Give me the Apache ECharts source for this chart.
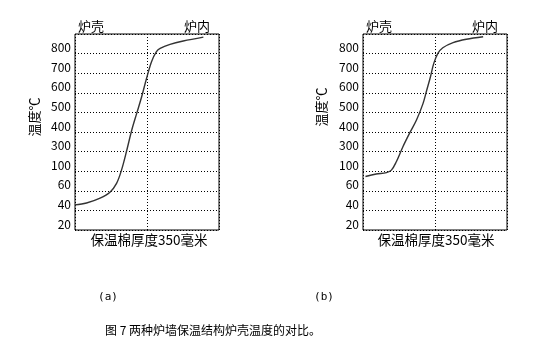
<!DOCTYPE html>
<html><head><meta charset="utf-8">
<script src="https://cdn.jsdelivr.net/npm/echarts@6/dist/echarts.min.js"></script>
<style>html,body{margin:0;padding:0;background:#fff}#c{width:538px;height:347px}</style>
</head><body><div id="c"></div>
<script>
// tick labels on the temperature axis (non-uniform scale)
var tickLabels = [20, 40, 60, 100, 300, 400, 500, 600, 700, 800];
// thickness of insulation, mm (0 = shell, 350 = furnace inside)
var xA = [0, 28, 61, 85, 101, 113, 126, 138, 150, 162, 174, 186, 198, 207, 231, 263, 312];
var tempA = [39, 41, 46, 52, 62, 89, 250, 377, 462, 547, 641, 726, 777, 794, 814, 831, 851];
var xB = [6, 32, 57, 69, 81, 97, 113, 130, 146, 155, 164, 172, 182, 194, 219, 251, 292];
var tempB = [76, 81, 84, 89, 131, 284, 360, 428, 513, 581, 649, 717, 768, 797, 823, 840, 853];

var LABEL_OFF = 0.33;
// map a temperature to the axis position used by the non-uniform scale
function pos(t) {
  var n = tickLabels.length;
  if (t <= tickLabels[0]) return LABEL_OFF + (t - tickLabels[0]) / 20;
  for (var i = 0; i < n - 1; i++) {
    if (t <= tickLabels[i + 1]) return i + LABEL_OFF + (t - tickLabels[i]) / (tickLabels[i + 1] - tickLabels[i]);
  }
  return n - 1 + LABEL_OFF + (t - tickLabels[n - 1]) / 100;
}
function build(xs, ts) { return xs.map(function (x, i) { return [x, pos(ts[i])]; }); }

var FONT = 'SimSun, "Noto Sans CJK SC", sans-serif';
function xAx(idx) {
  return { type: 'value', gridIndex: idx, min: 0, max: 350, interval: 175,
    axisLine: { show: false }, axisTick: { show: false }, axisLabel: { show: false },
    splitLine: { show: true, lineStyle: { color: '#000', type: [1, 2], width: 1 } } };
}
function yAx(idx) {
  return { type: 'value', gridIndex: idx, min: 0, max: 10, interval: 1,
    axisLine: { show: false }, axisTick: { show: false },
    axisLabel: { show: true, margin: 4, color: '#000', fontSize: 12, fontFamily: FONT,
      verticalAlign: 'bottom',
      formatter: function (v) { var i = Math.round(v); return i < tickLabels.length ? String(tickLabels[i]) : ''; } },
    splitLine: { show: true, lineStyle: { color: '#000', type: [1, 2], width: 1 } } };
}
function txt(x, y, s, size, rot, fam) {
  return { type: 'text', x: x, y: y, rotation: rot || 0,
    style: { text: s, fill: '#000', font: size + 'px ' + (fam || FONT), textAlign: 'center', textVerticalAlign: 'middle' } };
}
var chart = echarts.init(document.getElementById('c'), null, { renderer: 'canvas' });
chart.setOption({
  animation: false,
  backgroundColor: '#fff',
  grid: [
    { left: 75, top: 34, width: 144, height: 196, show: true, borderColor: '#000', borderWidth: 1, backgroundColor: 'transparent' },
    { left: 363, top: 34, width: 144, height: 196, show: true, borderColor: '#000', borderWidth: 1, backgroundColor: 'transparent' }
  ],
  xAxis: [xAx(0), xAx(1)],
  yAxis: [yAx(0), yAx(1)],
  series: [
    { type: 'line', xAxisIndex: 0, yAxisIndex: 0, data: build(xA, tempA), smooth: 0.35, showSymbol: false,
      lineStyle: { color: '#333', width: 1.4 } },
    { type: 'line', xAxisIndex: 1, yAxisIndex: 1, data: build(xB, tempB), smooth: 0.35, showSymbol: false,
      lineStyle: { color: '#333', width: 1.4 } }
  ],
  graphic: [
    txt(91, 26, '炉壳', 13), txt(197, 26, '炉内', 13),
    txt(379, 26, '炉壳', 13), txt(485, 26, '炉内', 13),
    txt(34, 117, '温度℃', 13, Math.PI / 2), txt(321, 107, '温度℃', 13, Math.PI / 2),
    txt(149, 240, '保温棉厚度350毫米', 13.5), txt(436, 240, '保温棉厚度350毫米', 13.5),
    txt(108, 297, '(a)', 11, 0, '"DejaVu Sans Mono", monospace'), txt(324, 297, '(b)', 11, 0, '"DejaVu Sans Mono", monospace'),
    txt(213, 330, '图 7 两种炉墙保温结构炉壳温度的对比。', 12)
  ]
});
</script></body></html>
